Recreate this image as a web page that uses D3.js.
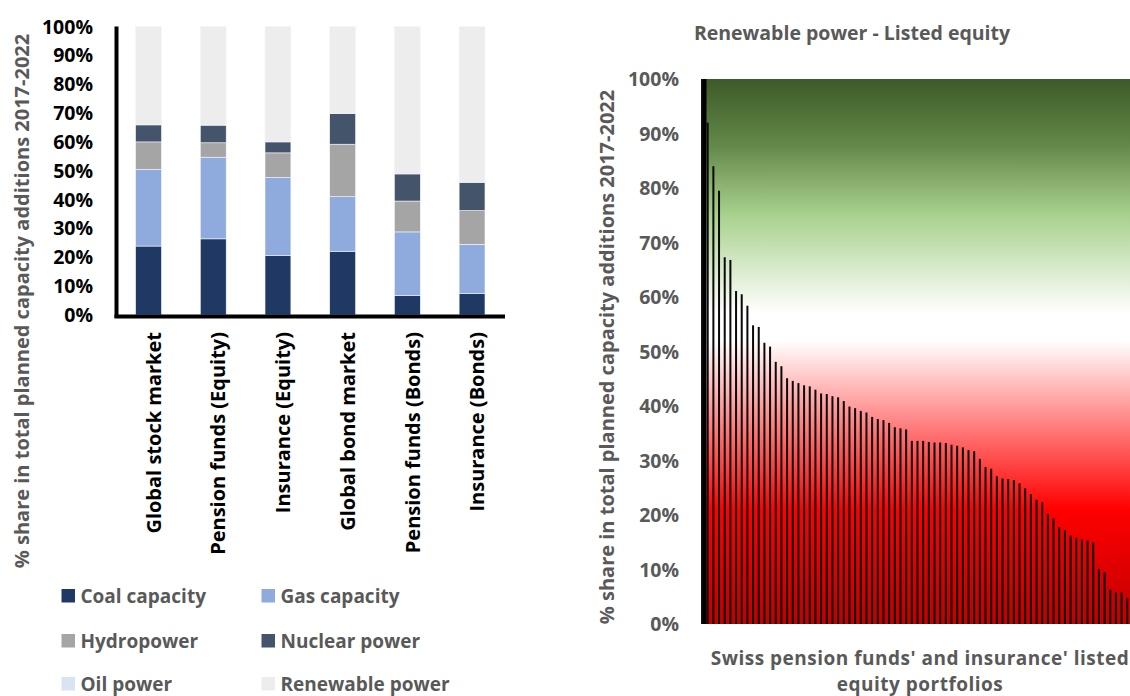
<!DOCTYPE html>
<html>
<head>
<meta charset="utf-8">
<script src="https://cdn.jsdelivr.net/npm/d3@7"></script>
<style>
    body { margin: 0; background: #fff; }
    svg { display: block; font-family: "Open Sans", sans-serif; font-weight: bold; }
</style>
</head>
<body>
<svg id="chart" width="1130" height="696"></svg>
<script>
const categories = ["Global stock market", "Pension funds (Equity)", "Insurance (Equity)",
    "Global bond market", "Pension funds (Bonds)", "Insurance (Bonds)"];
const seriesNames = ["Coal capacity", "Gas capacity", "Hydropower", "Nuclear power", "Oil power", "Renewable power"];
const seriesColors = ["#203864", "#8faadc", "#a5a5a5", "#44546a", "#dae3f3", "#ededed"];

const coal      = [0.239, 0.264, 0.206, 0.221, 0.068, 0.075];
const gas       = [0.266, 0.283, 0.271, 0.189, 0.220, 0.170];
const hydro     = [0.095, 0.050, 0.085, 0.182, 0.107, 0.117];
const nuclear   = [0.059, 0.061, 0.038, 0.106, 0.094, 0.098];
const oil       = [0, 0, 0, 0, 0, 0];
const renewable = [0.341, 0.342, 0.400, 0.302, 0.511, 0.540];

const percentTicks = [0, 0.1, 0.2, 0.3, 0.4, 0.5, 0.6, 0.7, 0.8, 0.9, 1];

// renewable share of each Swiss pension fund / insurer listed equity portfolio, sorted
const portfolioShares = [
    1.00, 0.92, 0.84, 0.795, 0.673, 0.668, 0.611, 0.605, 0.584, 0.548,
    0.545, 0.516, 0.509, 0.481, 0.473, 0.451, 0.446, 0.442, 0.438, 0.436,
    0.430, 0.423, 0.422, 0.418, 0.416, 0.409, 0.399, 0.396, 0.391, 0.388,
    0.380, 0.376, 0.374, 0.369, 0.361, 0.359, 0.357, 0.336, 0.336, 0.336,
    0.334, 0.333, 0.333, 0.332, 0.329, 0.327, 0.324, 0.319, 0.317, 0.303,
    0.288, 0.285, 0.271, 0.267, 0.266, 0.264, 0.258, 0.249, 0.238, 0.228,
    0.223, 0.202, 0.194, 0.178, 0.172, 0.162, 0.158, 0.155, 0.153, 0.150,
    0.101, 0.095, 0.063, 0.058, 0.058, 0.048
];

const svg = d3.select("#chart");
const grey = "#595959";
const pct = d3.format(".0%");

// ---------- left: stacked bars ----------
const rows = categories.map((c, i) => ({
    category: c,
    [seriesNames[0]]: coal[i],
    [seriesNames[1]]: gas[i],
    [seriesNames[2]]: hydro[i],
    [seriesNames[3]]: nuclear[i],
    [seriesNames[4]]: oil[i],
    [seriesNames[5]]: renewable[i]
}));
const stacked = d3.stack().keys(seriesNames)(rows);
const color = d3.scaleOrdinal().domain(seriesNames).range(seriesColors);

const x1 = d3.scaleBand().domain(categories).range([116.2, 504.4]).paddingInner(0.6).paddingOuter(0.3);
const y1 = d3.scaleLinear().domain([0, 1]).range([315, 26.5]);

const left = svg.append("g");

left.selectAll(".series")
    .data(stacked)
    .join("g")
    .attr("fill", d => color(d.key))
    .selectAll("rect")
    .data(d => d)
    .join("rect")
    .attr("x", d => x1(d.data.category))
    .attr("width", x1.bandwidth())
    .attr("y", d => y1(d[1]))
    .attr("height", d => y1(d[0]) - y1(d[1]))
    .attr("stroke", "#f4f6fa")
    .attr("stroke-width", 0.6);

left.append("g")
    .selectAll("text")
    .data(percentTicks)
    .join("text")
    .attr("x", 93)
    .attr("y", d => y1(d))
    .attr("dy", "0.36em")
    .attr("text-anchor", "end")
    .attr("font-size", 19.5)
    .attr("fill", "#000")
    .text(pct);

left.append("line")
    .attr("x1", 116.5).attr("x2", 116.5)
    .attr("y1", y1(1)).attr("y2", 318)
    .attr("stroke", "#000").attr("stroke-width", 4);
left.append("line")
    .attr("x1", 114.5).attr("x2", 505)
    .attr("y1", 316.5).attr("y2", 316.5)
    .attr("stroke", "#000").attr("stroke-width", 4);

left.append("g")
    .selectAll("text")
    .data(categories)
    .join("text")
    .attr("transform", d => `translate(${x1(d) + x1.bandwidth() / 2 + 5},332) rotate(-90)`)
    .attr("dy", "0.36em")
    .attr("text-anchor", "end")
    .attr("font-size", 20)
    .attr("fill", "#000")
    .text(d => d);

left.append("text")
    .attr("transform", "translate(22,301) rotate(-90)")
    .attr("dy", "0.36em")
    .attr("text-anchor", "middle")
    .attr("font-size", 20)
    .attr("fill", grey)
    .text("% share in total planned capacity additions 2017-2022");

const legend = left.append("g")
    .selectAll("g")
    .data(seriesNames)
    .join("g")
    .attr("transform", (d, i) => `translate(${i % 2 ? 261.5 : 61.5},${[596, 641, 684][Math.floor(i / 2)]})`);
legend.append("rect")
    .attr("x", 0).attr("y", -7)
    .attr("width", 13.5).attr("height", 13.5)
    .attr("fill", d => color(d));
legend.append("text")
    .attr("x", 19)
    .attr("dy", "0.36em")
    .attr("font-size", 19)
    .attr("fill", grey)
    .text(d => d);

// ---------- right: sorted portfolio bars over gradient ----------
const x2 = d3.scaleBand().domain(d3.range(portfolioShares.length)).range([699.2, 1130.1])
    .paddingInner(0.647).paddingOuter(0.3235);
const y2 = d3.scaleLinear().domain([0, 1]).range([624, 79]);

const grad = svg.append("defs").append("linearGradient")
    .attr("id", "bg")
    .attr("x1", 0).attr("y1", 0).attr("x2", 0).attr("y2", 1);
grad.selectAll("stop")
    .data([
        [0, "#3d5a28"], [0.12, "#628849"], [0.25, "#a9d18e"], [0.43, "#ffffff"],
        [0.48, "#ffffff"], [0.79, "#ff0000"], [1, "#c00000"]
    ])
    .join("stop")
    .attr("offset", d => d[0])
    .attr("stop-color", d => d[1]);

const right = svg.append("g");

right.append("rect")
    .attr("x", 703).attr("y", y2(1))
    .attr("width", 1130 - 703).attr("height", y2(0) - y2(1))
    .attr("fill", "url(#bg)");

right.append("line")
    .attr("x1", 704.5).attr("x2", 704.5)
    .attr("y1", y2(1)).attr("y2", y2(0))
    .attr("stroke", "#000").attr("stroke-width", 4);

right.append("g")
    .selectAll("rect")
    .data(portfolioShares)
    .join("rect")
    .attr("x", (d, i) => x2(i))
    .attr("width", x2.bandwidth())
    .attr("y", d => y2(d))
    .attr("height", d => y2(0) - y2(d))
    .attr("fill", "#0a0a0a");

right.append("g")
    .selectAll("text")
    .data(percentTicks)
    .join("text")
    .attr("x", 679)
    .attr("y", d => y2(d))
    .attr("dy", "0.36em")
    .attr("text-anchor", "end")
    .attr("font-size", 19.5)
    .attr("fill", grey)
    .text(pct);

right.append("text")
    .attr("x", 852).attr("y", 33)
    .attr("dy", "0.36em")
    .attr("text-anchor", "middle")
    .attr("font-size", 19.5)
    .attr("fill", grey)
    .text("Renewable power - Listed equity");

right.append("text")
    .attr("transform", "translate(607,357) rotate(-90)")
    .attr("dy", "0.36em")
    .attr("text-anchor", "middle")
    .attr("font-size", 20)
    .attr("fill", grey)
    .text("% share in total planned capacity additions 2017-2022");

right.append("g")
    .selectAll("text")
    .data(["Swiss pension funds' and insurance' listed", "equity portfolios"])
    .join("text")
    .attr("x", 920)
    .attr("y", (d, i) => 665 + i * 26)
    .attr("text-anchor", "middle")
    .attr("font-size", 19)
    .attr("letter-spacing", 0.5)
    .attr("fill", grey)
    .text(d => d);
</script>
</body>
</html>
